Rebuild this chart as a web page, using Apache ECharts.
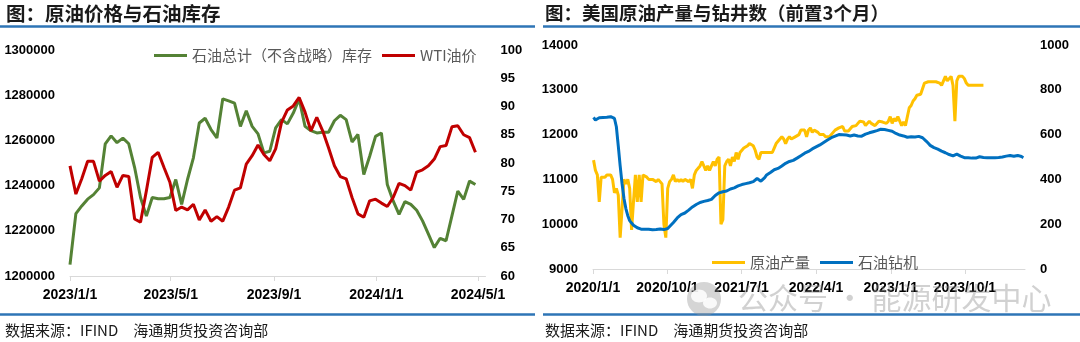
<!DOCTYPE html>
<html>
<head>
<meta charset="utf-8">
<script src="https://cdn.jsdelivr.net/npm/echarts@6/dist/echarts.min.js"></script>
<style>
html,body{margin:0;padding:0;background:#fff;}
#c{width:1080px;height:342px;}
</style>
</head>
<body>
<div id="c"></div>
<script>
// ---------- Left chart data (weekly, starting 2023/1/1) ----------
const leftStart = '2023/1/1';
const leftTickLabels = ['2023/1/1','2023/5/1','2023/9/1','2024/1/1','2024/5/1'];
const inventory = [1205000,1227600,1231000,1234000,1236000,1239000,1258500,1262000,1259000,1261000,
  1258500,1248000,1234700,1226500,1234700,1234200,1234200,1234700,1242700,1231700,
  1242700,1252300,1267700,1269800,1264800,1261100,1278400,1277500,1276500,1266200,
  1273100,1266200,1262900,1254500,1255200,1265500,1269200,1267300,1272100,1278400,
  1266200,1264300,1263300,1263600,1263600,1268700,1271100,1269200,1259300,1262600,
  1244900,1253000,1261800,1263300,1240500,1233200,1227300,1232900,1231700,1229100,
  1224400,1218500,1212600,1216700,1215600,1226600,1237600,1233900,1242000,1240500];
const wti = [79.5,74.5,77.2,80.3,80.3,76.8,77.8,78.5,75.7,77.8,
  77.6,70.1,69.5,75.1,81.0,81.9,79.2,76.6,71.6,72.2,
  71.7,72.7,69.9,71.7,69.7,70.5,69.7,72.2,75.2,75.6,
  79.8,81.3,83.2,81.5,80.4,82.5,87.2,89.4,90.1,91.6,
  89.0,85.7,88.1,85.7,82.7,79.5,77.6,77.2,73.9,71.0,
  70.4,73.3,73.6,72.9,72.3,73.9,76.4,76.0,75.2,78.4,
  78.8,79.5,80.7,82.9,83.1,86.4,86.6,85.0,84.5,81.9];

// ---------- Right chart data (weekly, starting 2020/1/3) ----------
const rightStart = '2020/1/3';
const rightTickLabels = ['2020/1/1','2020/10/1','2021/7/1','2022/4/1','2023/1/1','2023/10/1'];
const production = [11430,11200,11100,10500,11050,11050,11050,11100,11120,11100,
  11000,10700,10800,10650,9700,9700,11000,10900,11000,10800,
  9870,10500,11100,10500,11100,10500,11100,11120,11050,11000,
  11000,11000,11000,10950,11000,10950,10900,10000,9700,10800,
  10950,11000,11100,10950,11000,10950,11000,10950,11000,11000,
  10950,11000,10800,11100,11200,11200,11300,11400,11400,11200,
  11300,11200,11300,11400,11300,11450,11500,10000,10100,11300,
  11400,11450,11300,11500,11400,11600,11450,11600,11650,11700,
  11700,11750,11800,11800,11750,11650,11500,11450,11600,11600,
  11600,11600,11600,11600,11600,11700,11800,11850,11900,11950,
  11900,11800,11900,11950,11900,11900,11950,11950,12000,12100,
  12100,12100,11950,12100,12150,12050,12100,12100,12050,12000,
  12000,12000,11950,11920,11950,11950,12050,12100,12100,12150,
  12150,12180,12080,12100,12080,12100,12180,12200,12200,12250,
  12300,12280,12280,12200,12250,12300,12250,12250,12200,12200,
  12300,12300,12280,12280,12250,12300,12400,12250,12360,12300,
  12400,12300,12200,12280,12200,12180,12600,12650,12750,12800,
  12880,12900,12900,12900,13150,13180,13180,13180,13180,13180,
  13180,13180,13150,13100,13200,13300,13200,13250,13300,13100,
  12300,13200,13300,13300,13300,13250,13150,13100,13100,13100,
  13100,13100,13100,13100,13100,13100];
const rigs = [677,665,672,675,676,676,676,677,678,680,
  683,672,635,550,460,380,315,270,238,216,
  205,195,189,184,180,178,177,177,177,177,
  177,175,168,176,178,179,177,176,175,181,
  189,199,208,218,228,233,243,242,250,258,
  263,265,277,283,288,292,297,300,302,304,
  306,308,311,316,328,336,340,343,345,347,
  348,353,357,359,362,367,371,375,377,379,
  381,383,385,387,390,396,404,405,392,400,
  408,420,426,431,438,443,445,449,454,460,
  465,472,476,480,482,485,488,495,499,506,
  514,517,519,525,529,536,541,545,549,554,
  559,565,570,576,582,586,591,593,595,600,
  602,599,598,598,596,594,597,598,598,594,
  588,593,598,602,606,608,611,613,615,618,
  622,624,624,623,621,619,617,615,611,605,
  601,598,596,594,590,588,588,590,591,589,
  588,592,593,586,578,570,561,552,547,542,
  540,535,530,526,524,519,515,511,508,505,
  508,513,508,504,500,497,494,497,501,495,
  490,495,499,501,499,498,497,497,497,497,
  497,497,497,498,499,500,502,504,506,507,
  505,503,506,507,504,502,497];

// ---------- helpers ----------
function parseD(s){ const p = s.split('/').map(Number); return new Date(p[0], p[1]-1, p[2]).getTime(); }
function weekly(start, n){ const t0 = new Date(parseD(start)); const out=[]; for(let i=0;i<n;i++){ out.push(new Date(t0.getFullYear(), t0.getMonth(), t0.getDate()+7*i).getTime()); } return out; }
function fmt(v){ const d=new Date(v); return d.getFullYear()+'/'+(d.getMonth()+1)+'/'+d.getDate(); }
function pairs(dates, vals){ return vals.map((v,i)=>[dates[i], v]); }

const leftDates = weekly(leftStart, inventory.length);
const rightDates = weekly(rightStart, rigs.length);
const leftTicks = leftTickLabels.map(parseD);
const rightTicks = rightTickLabels.map(parseD);

const NUM = "'Liberation Sans', Arial, sans-serif";
const CJK = "'Noto Sans CJK SC', sans-serif";
const axisLineGray = '#D9D9D9';
const labelBase = {fontWeight:'bold', color:'#000', fontFamily:NUM};

function xAx(grid, min, max, ticks){
  return {type:'value', gridIndex:grid, min:min, max:max, scale:true,
    axisLine:{show:true, onZero:false, lineStyle:{color:axisLineGray, width:1}},
    axisTick:{show:true, length:5, lineStyle:{color:axisLineGray}, customValues:ticks},
    axisLabel:Object.assign({}, labelBase, {fontSize:14, customValues:ticks, formatter:fmt, margin:12, hideOverlap:false, showMinLabel:true, showMaxLabel:true}),
    splitLine:{show:false}};
}
function yAx(grid, pos, min, max, interval){
  return {type:'value', gridIndex:grid, position:pos, min:min, max:max, interval:interval,
    axisLine:{show:false}, axisTick:{show:false}, splitLine:{show:false},
    axisLabel:Object.assign({}, labelBase, {fontSize:13, margin:15, formatter:function(v){return String(v);}})};
}

const chart = echarts.init(document.getElementById('c'), null, {renderer:'canvas'});
const option = {
  animation:false,
  backgroundColor:'#fff',
  grid:[
    {left:70, top:50, width:415.5, height:226},
    {left:593, top:45, width:432, height:224}
  ],
  xAxis:[
    xAx(0, parseD('2023/1/1'), parseD('2024/5/10'), leftTicks),
    xAx(1, parseD('2020/1/1'), parseD('2024/5/9'), rightTicks)
  ],
  yAxis:[
    yAx(0,'left',1200000,1300000,20000),
    yAx(0,'right',60,100,5),
    yAx(1,'left',9000,14000,1000),
    yAx(1,'right',0,1000,200)
  ],
  legend:[
    {data:['石油总计（不含战略）库存','WTI油价'], left:154, top:48, padding:0, itemGap:10,
     itemWidth:33, itemHeight:3, icon:'rect',
     textStyle:{color:'#595959', fontSize:15, fontFamily:CJK}},
    {data:['原油产量','石油钻机'], left:712, top:255, padding:0, itemGap:10,
     itemWidth:33, itemHeight:3, icon:'rect',
     textStyle:{color:'#595959', fontSize:15, fontFamily:CJK}}
  ],
  series:[
    {name:'石油总计（不含战略）库存', type:'line', xAxisIndex:0, yAxisIndex:0, data:pairs(leftDates, inventory),
     showSymbol:false, symbol:'none', lineStyle:{color:'#548235', width:3}, itemStyle:{color:'#548235'}},
    {name:'WTI油价', type:'line', xAxisIndex:0, yAxisIndex:1, data:pairs(leftDates, wti),
     showSymbol:false, symbol:'none', lineStyle:{color:'#C00000', width:3}, itemStyle:{color:'#C00000'}},
    {name:'原油产量', type:'line', xAxisIndex:1, yAxisIndex:2, data:pairs(rightDates, production),
     showSymbol:false, symbol:'none', lineStyle:{color:'#FFC000', width:3}, itemStyle:{color:'#FFC000'}},
    {name:'石油钻机', type:'line', xAxisIndex:1, yAxisIndex:3, data:pairs(rightDates, rigs),
     showSymbol:false, symbol:'none', lineStyle:{color:'#0070C0', width:3}, itemStyle:{color:'#0070C0'}}
  ],
  graphic:[
    {type:'text', left:6, top:4, style:{text:'图：原油价格与石油库存', fontSize:19.5, fontWeight:'bold', fill:'#1a1a1a', fontFamily:CJK}},
    {type:'text', left:545, top:4, style:{text:'图：美国原油产量与钻井数（前置3个月）', fontSize:18.5, fontWeight:'bold', fill:'#1a1a1a', fontFamily:CJK}},
    {type:'line', shape:{x1:0, y1:26.5, x2:535, y2:26.5}, style:{stroke:'#2E75B6', lineWidth:2.5}},
    {type:'line', shape:{x1:543, y1:26.5, x2:1080, y2:26.5}, style:{stroke:'#2E75B6', lineWidth:2.5}},
    {type:'line', shape:{x1:0, y1:314.5, x2:535, y2:314.5}, style:{stroke:'#2E75B6', lineWidth:2.5}},
    {type:'line', shape:{x1:543, y1:314.5, x2:1080, y2:314.5}, style:{stroke:'#2E75B6', lineWidth:2.5}},
    {type:'text', left:5, top:323, style:{text:'数据来源：IFIND　海通期货投资咨询部', fontSize:15, fill:'#1a1a1a', fontFamily:CJK}},
    {type:'text', left:545, top:323, style:{text:'数据来源：IFIND　海通期货投资咨询部', fontSize:15, fill:'#1a1a1a', fontFamily:CJK}},
    {type:'circle', shape:{cx:704, cy:299, r:17}, style:{fill:'rgba(150,150,150,0.4)'}, z:100},
    {type:'ellipse', shape:{cx:699, cy:296, rx:8, ry:6.5}, style:{fill:'rgba(255,255,255,0.85)'}, z:101},
    {type:'ellipse', shape:{cx:710, cy:303, rx:7, ry:5.5}, style:{fill:'rgba(255,255,255,0.85)'}, z:102},
    {type:'text', left:738, top:283, z:100, style:{text:'公众号 · 能源研发中心', fontSize:30, fill:'rgba(140,140,140,0.4)', fontFamily:CJK}}
  ]
};
chart.setOption(option);
</script>
</body>
</html>
